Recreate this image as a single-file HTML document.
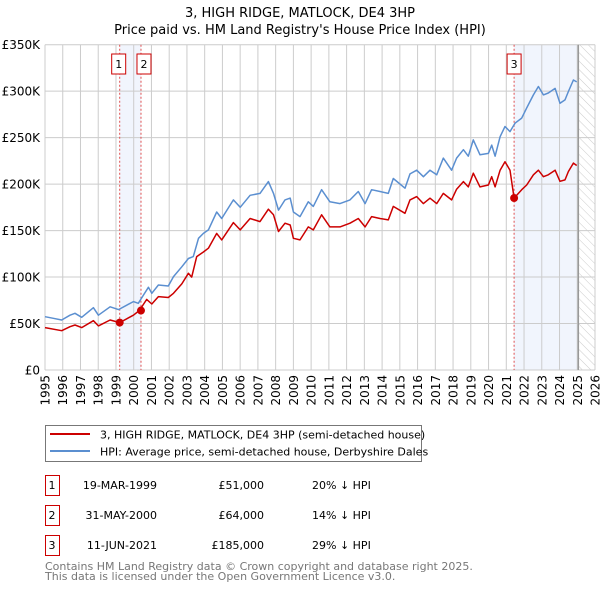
<!DOCTYPE html>
<html><head><meta charset="utf-8"><style>
body{margin:0;background:#fff;}
svg text{font-family:"DejaVu Sans","Liberation Sans",sans-serif;}
</style></head><body>
<svg id="chart" width="600" height="590" xmlns="http://www.w3.org/2000/svg">
<defs><pattern id="hatch" width="6" height="6" patternUnits="userSpaceOnUse" patternTransform="rotate(-45)"><line x1="0" y1="0" x2="0" y2="6" stroke="#ccc" stroke-width="1"/></pattern></defs>
<text x="300" y="17" text-anchor="middle" font-size="13">3, HIGH RIDGE, MATLOCK, DE4 3HP</text>
<text x="300" y="34" text-anchor="middle" font-size="13">Price paid vs. HM Land Registry's House Price Index (HPI)</text>
<g id="plot"></g>
<rect x="45.5" y="425.5" width="376" height="36" fill="#fff" stroke="#777"/>
<line x1="50" y1="434" x2="90" y2="434" stroke="#cc0000" stroke-width="2"/>
<text x="100" y="438.5" font-size="11">3, HIGH RIDGE, MATLOCK, DE4 3HP (semi-detached house)</text>
<line x1="50" y1="451" x2="90" y2="451" stroke="#5b8fd0" stroke-width="2"/>
<text x="100" y="455.5" font-size="11">HPI: Average price, semi-detached house, Derbyshire Dales</text>
<g id="table"></g>
<text x="45" y="570" font-size="11" fill="#777">Contains HM Land Registry data © Crown copyright and database right 2025.</text>
<text x="45" y="580" font-size="11" fill="#777">This data is licensed under the Open Government Licence v3.0.</text>
</svg>
<script>
const hpiYears=[1995.0,1995.47,1995.94,1996.41,1996.69,1997.07,1997.73,1998.01,1998.67,1999.14,1999.98,2000.26,2000.55,2000.83,2001.02,2001.39,2001.95,2002.24,2002.71,2003.08,2003.36,2003.65,2003.93,2004.21,2004.68,2004.96,2005.62,2006.0,2006.56,2007.12,2007.59,2007.88,2008.16,2008.53,2008.82,2009.0,2009.37,2009.84,2010.12,2010.59,2011.06,2011.63,2012.19,2012.66,2013.04,2013.41,2013.88,2014.35,2014.63,2015.29,2015.57,2015.95,2016.33,2016.7,2017.08,2017.45,2017.92,2018.2,2018.58,2018.86,2019.14,2019.52,2019.99,2020.18,2020.37,2020.65,2020.93,2021.21,2021.49,2021.87,2022.15,2022.53,2022.81,2023.09,2023.37,2023.75,2024.03,2024.31,2024.5,2024.78,2024.97];
const hpiValues=[57.4,55.6,53.8,59,61,56.7,67,59,68,65,73.6,71.8,80.7,89,82.5,91.5,90.4,100.5,111,120,122,141.7,147,150.7,170,163,183,175,188,190,202.7,190,172,183,185,170,165,181,176,194,181,179,183,192,179,194,192,190,206,195.6,211,215,208,215,210,228,215,228,237,230,247.6,231.5,233,242,230,251,262,256.5,265.5,271,282,296,305,296,298,303,287,290.6,299.6,312,310];
const ppYears=[1995.0,1995.94,1996.41,1996.69,1997.07,1997.73,1998.01,1998.67,1999.21,1999.98,2000.32,2000.73,2001.02,2001.39,2001.95,2002.24,2002.71,2003.08,2003.27,2003.55,2003.93,2004.21,2004.68,2004.96,2005.62,2006.0,2006.56,2007.12,2007.59,2007.88,2008.16,2008.53,2008.82,2009.0,2009.37,2009.84,2010.12,2010.59,2011.06,2011.63,2012.19,2012.66,2013.04,2013.41,2013.88,2014.35,2014.63,2015.29,2015.57,2015.95,2016.33,2016.7,2017.08,2017.45,2017.92,2018.2,2018.58,2018.86,2019.14,2019.52,2019.99,2020.18,2020.37,2020.65,2020.93,2021.21,2021.44,2021.87,2022.15,2022.53,2022.81,2023.09,2023.37,2023.75,2024.03,2024.31,2024.5,2024.78,2024.97];
const ppValues=[45.6,42.3,46.6,48.4,45.6,53,47.4,53.8,51,59,64,76,71,79,78,82.5,92.6,104,100,122,127,131,147,140,158.6,150.7,163,159.7,173,167,149,158,156,141.7,140,154,150.7,167,154,154,158,163,154,165,163,161.5,176,168.6,183,186.6,179,184.8,179,190,183,194.5,202.7,197,211.7,197,199,208,197,215,224,215,185,194,199,210,215,208,210,215,203,204.5,213.6,222.6,220];
const saleLabels=["1","2","3"];
const saleYears=[1999.21,2000.41,2021.44];
const salePrices=[51,64,185];
const saleDates=["19-MAR-1999","31-MAY-2000","11-JUN-2021"];
const salePriceText=["£51,000","£64,000","£185,000"];
const saleHpiText=["20% ↓ HPI","14% ↓ HPI","29% ↓ HPI"];
const yTicks=[0,50,100,150,200,250,300,350];
const yTickLabels=["£0","£50K","£100K","£150K","£200K","£250K","£300K","£350K"];
const xTicks=[1995,1996,1997,1998,1999,2000,2001,2002,2003,2004,2005,2006,2007,2008,2009,2010,2011,2012,2013,2014,2015,2016,2017,2018,2019,2020,2021,2022,2023,2024,2025,2026];

const X0=45,X1=595,Y0=370,Y1=44.7;
const xs=y=>X0+(y-1995)/(2026-1995)*(X1-X0);
const ys=v=>Y0-v/350*(Y0-Y1);
const NS="http://www.w3.org/2000/svg";
const plot=document.getElementById('plot');
function mk(tag,attrs,parent){const e=document.createElementNS(NS,tag);for(const k in attrs)e.setAttribute(k,attrs[k]);(parent||plot).appendChild(e);return e;}
// shaded bands
let b=mk('rect',{x:xs(saleYears[0]),y:Y1,width:xs(saleYears[1])-xs(saleYears[0]),height:Y0-Y1,fill:'#eef3fc',opacity:0.8});


b=mk('rect',{x:xs(saleYears[2]),y:Y1,width:xs(2025.06)-xs(saleYears[2]),height:Y0-Y1,fill:'#eef3fc',opacity:0.8});


b=mk('rect',{x:xs(2025.06),y:Y1,width:X1-xs(2025.06),height:Y0-Y1,fill:'url(#hatch)'});


// grid
xTicks.forEach(t=>{const l=mk('line',{x1:xs(t),x2:xs(t),y1:Y1,y2:Y0,stroke:'#ccc'});


const tx=mk('text',{x:0,y:0,'font-size':12,'text-anchor':'end',transform:`translate(${xs(t)+4.5},375) rotate(-90)`});tx.textContent=t;

});
yTicks.forEach((t,i)=>{const l=mk('line',{x1:X0,x2:X1,y1:ys(t),y2:ys(t),stroke:'#ccc'});


const tx=mk('text',{x:40,y:ys(t)+4.5,'font-size':12,'text-anchor':'end'});tx.textContent=yTickLabels[i];

});
let vl=mk('line',{x1:xs(2025.06),x2:xs(2025.06),y1:Y1,y2:Y0,stroke:'#999','stroke-width':1.5});


// sale vlines
saleYears.forEach((s,i)=>{const l=mk('line',{x1:xs(s),x2:xs(s),y1:Y1,y2:Y0,stroke:'#e05050','stroke-dasharray':'2,2','stroke-width':1});


const r=mk('rect',{x:xs(s)+(i==0?-8:i==1?-4:-7),y:54,width:14,height:20,fill:'#fff',stroke:'#cc0000'});


const t=mk('text',{x:xs(s)+(i==0?-1:i==1?3:0),y:68,'font-size':11,'text-anchor':'middle'});t.textContent=saleLabels[i];

});
function line(xa,va,color,name){const d=xa.map((y,i)=>(i?'L':'M')+xs(y).toFixed(1)+','+ys(va[i]).toFixed(1)).join('');
const p=mk('path',{d:d,fill:'none',stroke:color,'stroke-width':1.5,'stroke-linejoin':'round'});

}
line(hpiYears,hpiValues,'#5b8fd0','hpi-line');
line(ppYears,ppValues,'#cc0000','price-paid-line');
saleYears.forEach((s,i)=>{const c=mk('circle',{cx:xs(s),cy:ys(salePrices[i]),r:4,fill:'#cc0000'});

});
// table
const tb=document.getElementById('table');
saleLabels.forEach((l,i)=>{const y0=475+i*30;
const r=mk('rect',{x:45.5,y:y0+0.5,width:14,height:20,fill:'#fff',stroke:'#cc0000'},tb);


const cells=[[52,'middle',l],[157,'end',saleDates[i]],[264,'end',salePriceText[i]],[312,'start',saleHpiText[i]]];
cells.forEach(c=>{const t=mk('text',{x:c[0],y:y0+14,'font-size':11,'text-anchor':c[1]},tb);t.textContent=c[2];

});});
</script>
</body></html>
